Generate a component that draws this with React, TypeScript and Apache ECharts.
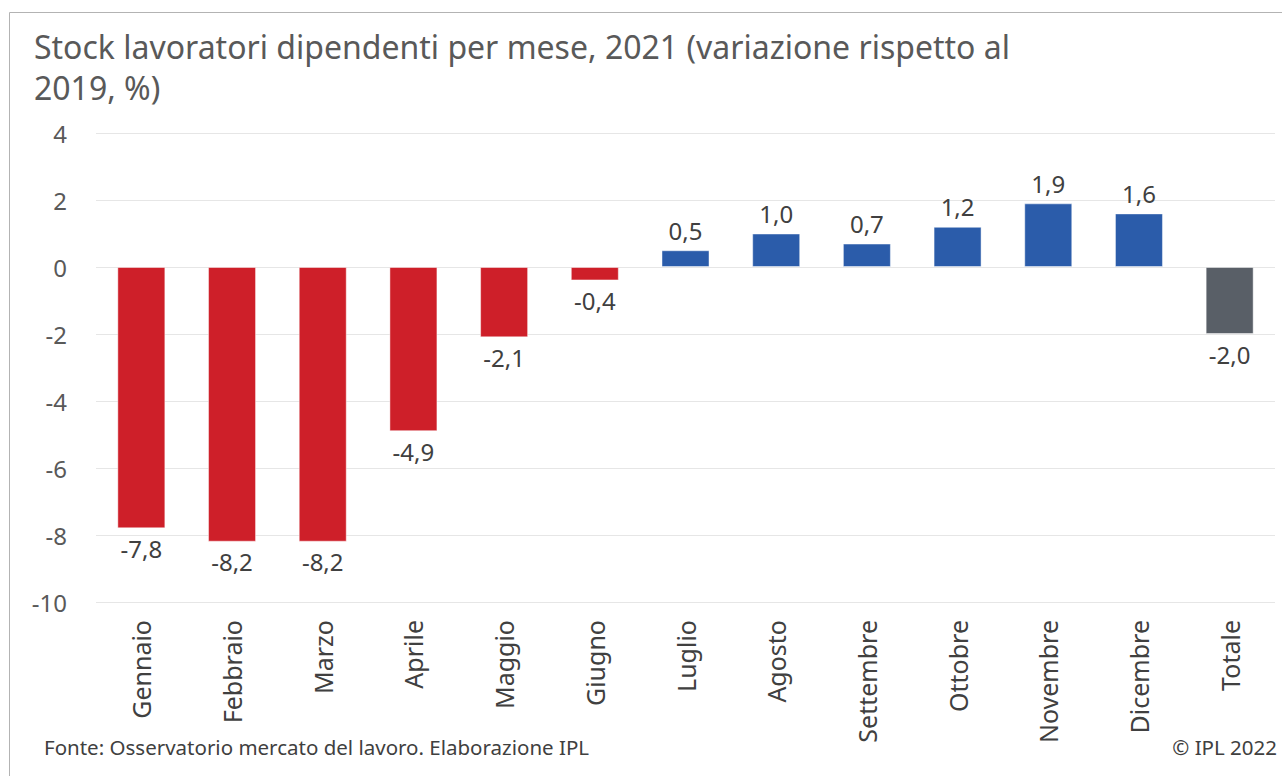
import React, { useEffect, useRef } from "react";
import * as echarts from "echarts";

const categories = ["Gennaio", "Febbraio", "Marzo", "Aprile", "Maggio", "Giugno", "Luglio", "Agosto", "Settembre", "Ottobre", "Novembre", "Dicembre", "Totale"];
const values = [-7.8, -8.2, -8.2, -4.9, -2.1, -0.4, 0.5, 1.0, 0.7, 1.2, 1.9, 1.6, -2.0];
const yTicks = { min: -10, max: 4, interval: 2 };

const RED = "#CE1F29";
const BLUE = "#2B5CAA";
const GRAY = "#595F67";
const FONT = "'Noto Sans', sans-serif";

export default function App() {
  const ref = useRef<HTMLDivElement>(null);
  useEffect(() => {
    if (!ref.current) return;
    const chart = echarts.init(ref.current, undefined, { renderer: "svg" });
    const data = values.map((v, i) => {
      const isTotal = categories[i] === "Totale";
      const color = isTotal ? GRAY : v < 0 ? RED : BLUE;
      return {
        value: v,
        itemStyle: { color, borderColor: "rgba(255,255,255,0.45)", borderWidth: 1 },
        label: { position: v < 0 ? "bottom" : "top" },
      };
    });
    chart.setOption({
      animation: false,
      textStyle: { fontFamily: FONT },
      title: {
        text: "Stock lavoratori dipendenti per mese, 2021 (variazione rispetto al\n2019, %)",
        left: 29,
        top: 21,
        textStyle: { fontFamily: FONT, fontSize: 32, fontWeight: "normal", color: "#595959", lineHeight: 41 },
      },
      grid: { left: 96, right: 7, top: 133, bottom: 174, containLabel: false },
      xAxis: {
        type: "category",
        data: categories,
        axisLine: { show: false },
        axisTick: { show: false },
        axisLabel: { rotate: 90, fontSize: 25, color: "#404040", fontFamily: FONT, margin: 18, interval: 0 },
      },
      yAxis: {
        type: "value",
        min: yTicks.min,
        max: yTicks.max,
        interval: yTicks.interval,
        axisLine: { show: false },
        axisTick: { show: false },
        splitLine: { lineStyle: { color: "#e6e6e6", width: 1 } },
        axisLabel: { fontSize: 24, color: "#595959", fontFamily: FONT, margin: 29 },
      },
      series: [
        {
          type: "bar",
          data,
          barWidth: 48,
          label: {
            show: true,
            fontSize: 24,
            color: "#404040",
            fontFamily: FONT,
            distance: 8,
            formatter: (p: any) => p.value.toFixed(1).replace(".", ","),
          },
        },
      ],
      graphic: [
        { type: "line", shape: { x1: 9.5, y1: 12.5, x2: 1282, y2: 12.5 }, style: { stroke: "#b3b3b3", lineWidth: 1 } },
        { type: "line", shape: { x1: 9.5, y1: 12.5, x2: 9.5, y2: 776 }, style: { stroke: "#b3b3b3", lineWidth: 1 } },
        {
          type: "text",
          left: 44,
          top: 736,
          style: { text: "Fonte: Osservatorio mercato del lavoro. Elaborazione IPL", fontSize: 20.5, fill: "#404040", fontFamily: FONT },
        },
        {
          type: "text",
          right: 5,
          top: 736,
          style: { text: "© IPL 2022", fontSize: 20.5, fill: "#404040", fontFamily: FONT },
        },
      ],
    });
    return () => chart.dispose();
  }, []);
  return (
    <div
      ref={ref}
      style={{ position: "fixed", left: 0, top: 0, width: 1282, height: 776, background: "#fff" }}
    />
  );
}
